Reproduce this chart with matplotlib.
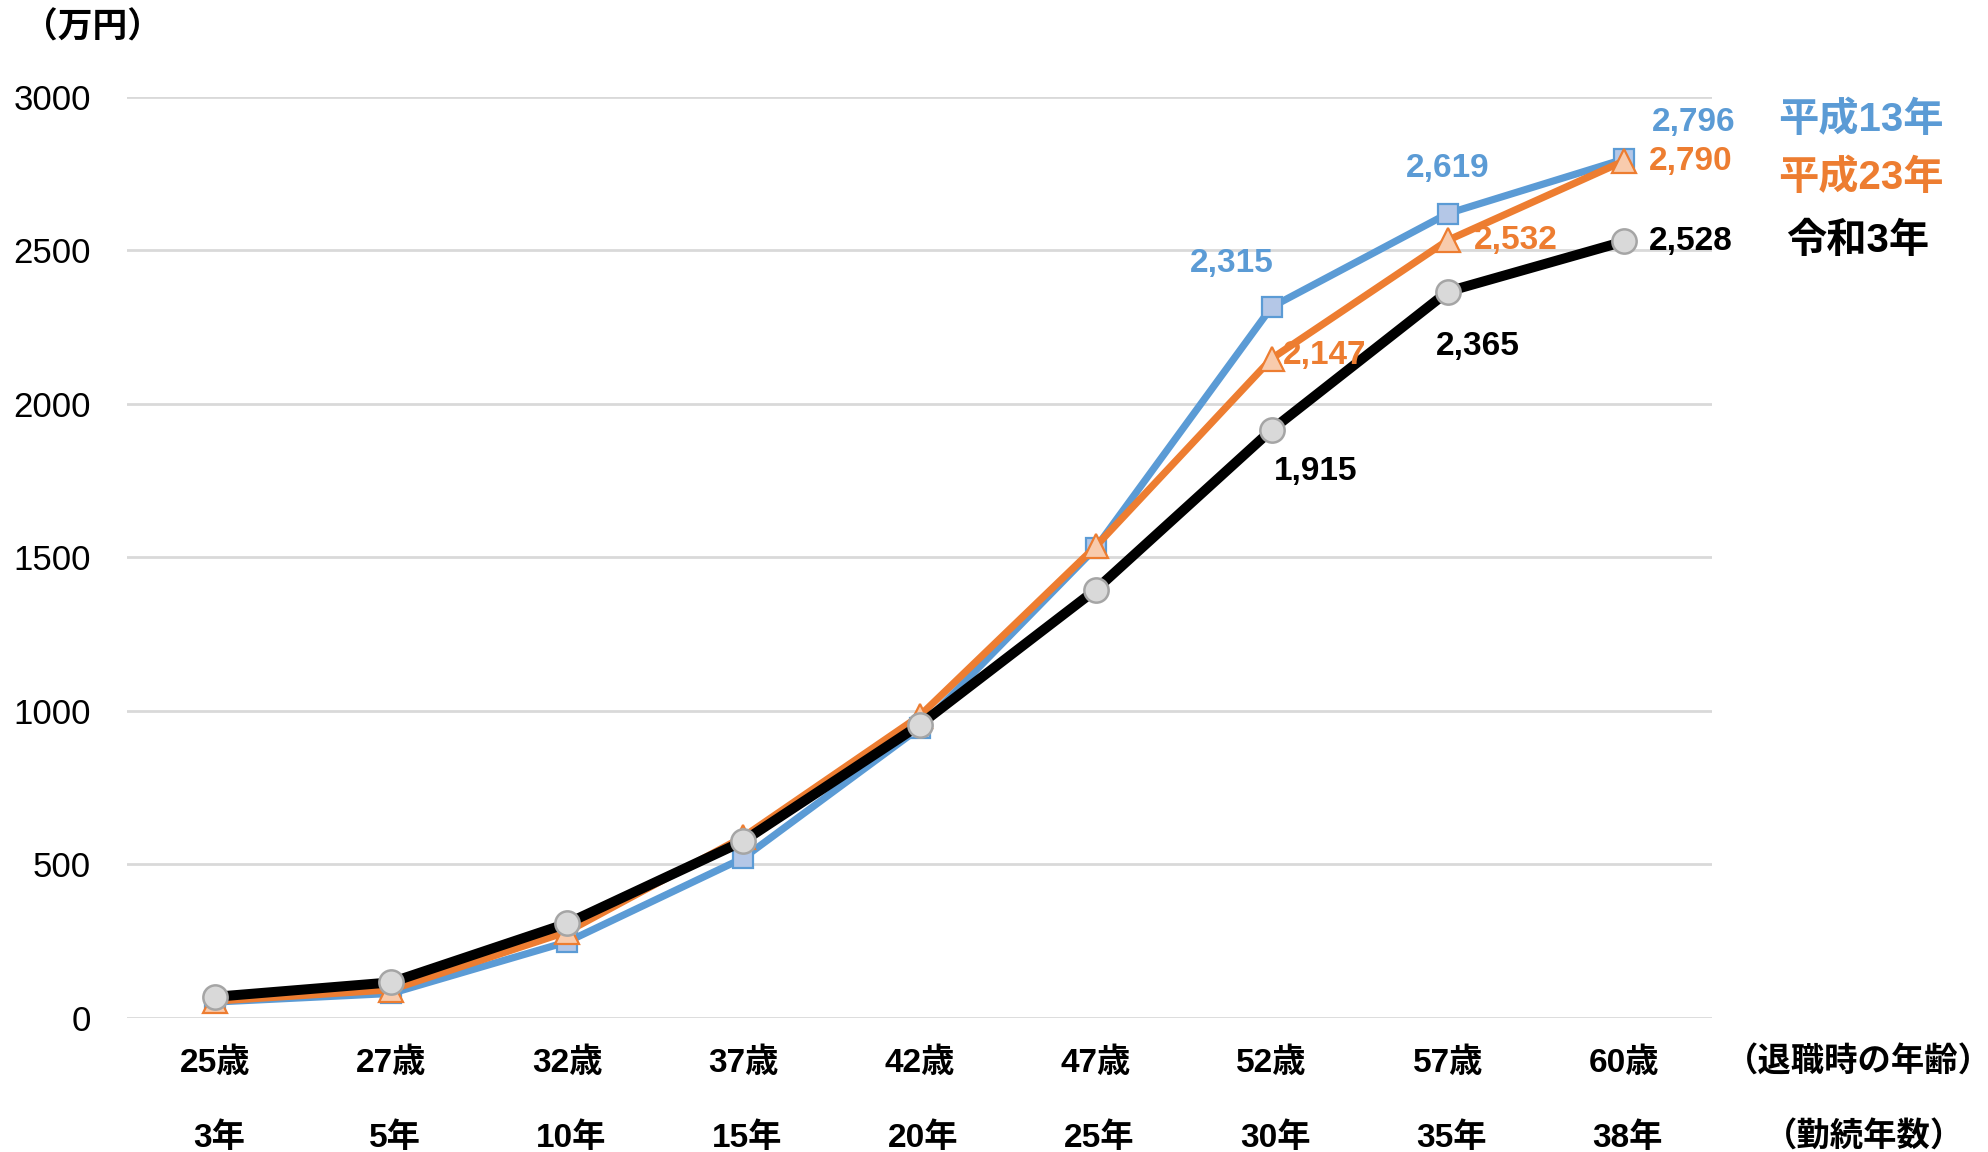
import matplotlib
matplotlib.use("Agg")
import matplotlib.pyplot as plt
from matplotlib import font_manager

# Retirement allowance by age at retirement (unit: 10,000 yen)
ages = ["25歳", "27歳", "32歳", "37歳", "42歳", "47歳", "52歳", "57歳", "60歳"]
tenure = ["3年", "5年", "10年", "15年", "20年", "25年", "30年", "35年", "38年"]

series_names = ["平成13年", "平成23年", "令和3年"]
h13 = [52, 80, 248, 521, 944, 1530, 2315, 2619, 2796]
h23 = [55, 92, 281, 590, 983, 1535, 2147, 2532, 2790]
r3 = [69, 116, 308, 576, 954, 1394, 1915, 2365, 2528]

yticks = [0, 500, 1000, 1500, 2000, 2500, 3000]

names = {f.name for f in font_manager.fontManager.ttflist}
narrow = "Liberation Sans Narrow" if "Liberation Sans Narrow" in names else "Liberation Sans"
CJK = "Noto Sans CJK JP"
FAM = [narrow, CJK]

W, H = 1988, 1152
fig = plt.figure(figsize=(W / 100, H / 100), dpi=100)
ax = fig.add_axes([127 / W, 1 - 1018 / H, (1712 - 127) / W, (1018 - 96.5) / H])

x = list(range(len(ages)))

styles = [
    dict(color="#5B9BD5", lw=5.2, marker="s", ms=14, mfc="#B4C7E7", mec="#5B9BD5", mew=1.6),
    dict(color="#ED7D31", lw=5.2, marker="^", ms=17, mfc="#F8CBAD", mec="#ED7D31", mew=1.6),
    dict(color="#000000", lw=7.2, marker="o", ms=17.5, mfc="#D9D9D9", mec="#A5A5A5", mew=1.8),
]
for vals, st in zip([h13, h23, r3], styles):
    ax.plot(x, vals, clip_on=False, zorder=3, **st)

ax.set_xlim(-0.5, len(ages) - 0.5)
ax.set_ylim(0, 3000)
ax.set_yticks(yticks)
ax.set_yticklabels([str(v) for v in yticks], family=FAM, fontsize=25)
ax.set_xticks([])
ax.tick_params(axis="y", length=0, pad=26)
ax.grid(axis="y", color="#D9D9D9", lw=2)
ax.set_axisbelow(True)
for s in ax.spines.values():
    s.set_visible(False)

# Category labels: age on the first row, years of service on the second
for i in x:
    ax.annotate(ages[i], (i, 0), xytext=(0, -45), textcoords="offset pixels",
                ha="center", va="center", family=FAM, fontsize=24, fontweight="bold")
    ax.annotate(tenure[i], (i, 0), xytext=(4, -120), textcoords="offset pixels",
                ha="center", va="center", family=FAM, fontsize=24, fontweight="bold")

fig.text(1858 / W, 1 - 1063 / H, "（退職時の年齢）", ha="center", va="center",
         family=FAM, fontsize=24, fontweight="bold")
fig.text(1864 / W, 1 - 1138 / H, "（勤続年数）", ha="center", va="center",
         family=FAM, fontsize=24, fontweight="bold")
fig.text(92 / W, 1 - 28 / H, "（万円）", ha="center", va="center",
         family=FAM, fontsize=25, fontweight="bold")

# Legend as coloured labels
legend_pos = [(1861, 120), (1861, 178), (1858, 241)]
legend_cols = ["#5B9BD5", "#ED7D31", "#000000"]
for name, (lx, ly), c in zip(series_names, legend_pos, legend_cols):
    fig.text(lx / W, 1 - ly / H, name, ha="center", va="center", color=c,
             family=FAM, fontsize=29, fontweight="bold")

# Value labels for the last three points of each series
label_offsets = {
    0: [(-40, 43), (0, 45), (70, 37)],
    1: [(53, 3), (68, 0), (67, 0)],
    2: [(44, -42), (30, -55), (67, 0)],
}
for k, vals in enumerate([h13, h23, r3]):
    for j, idx in enumerate([6, 7, 8]):
        dx, dy = label_offsets[k][j]
        ax.annotate(f"{vals[idx]:,}", (idx, vals[idx]), xytext=(dx, dy),
                    textcoords="offset pixels", ha="center", va="center",
                    color=legend_cols[k], family=FAM, fontsize=24,
                    fontweight="bold", zorder=5)

fig.savefig("out.png", dpi=100, facecolor="white")
